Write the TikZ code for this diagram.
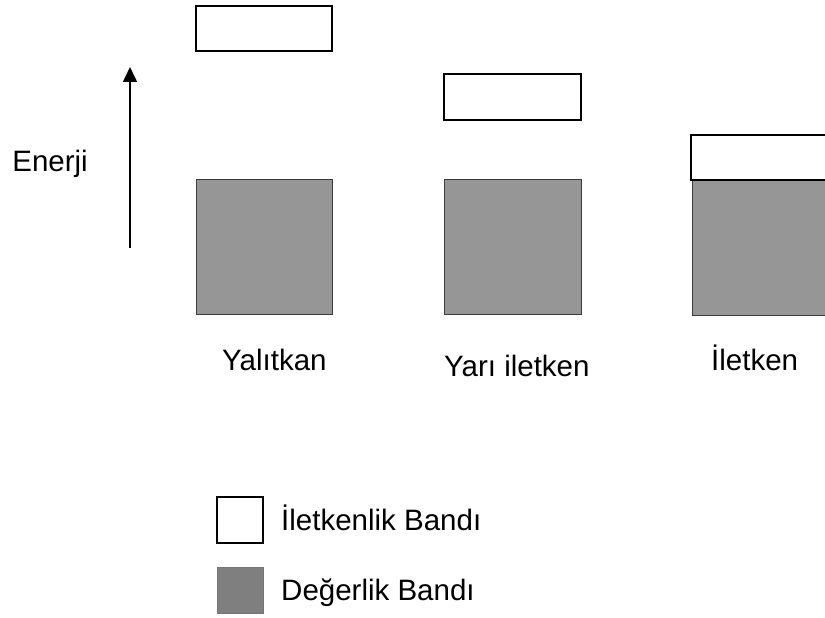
\documentclass[tikz,border=0pt]{standalone}
\usepackage{fontspec}
\setmainfont{Liberation Sans}
\usetikzlibrary{arrows.meta}
\definecolor{bandgray}{HTML}{969696}
\definecolor{bandedge}{HTML}{3C3C3C}
\definecolor{leggray}{HTML}{7F7F7F}
\tikzset{
  cband/.style={draw=black, line width=1.6pt, fill=white, inner sep=0pt, outer sep=0pt, anchor=north west},
  vband/.style={draw=bandedge, line width=1pt, fill=bandgray, inner sep=0pt, outer sep=0pt, anchor=north west},
  lbl/.style={inner sep=0pt, anchor=base west, font=\fontsize{29.5}{35}\selectfont},
  legbox/.style={inner sep=0pt, outer sep=0pt, anchor=north west, minimum width=46pt, minimum height=46pt}
}
\begin{document}
\begin{tikzpicture}[x=1pt,y=-1pt]
\useasboundingbox (0,0) rectangle (825,618);
\clip (0,0) rectangle (825,618);
% Yalitkan
\node[cband, minimum width=136pt, minimum height=45pt] (ycb) at (196,6) {};
\node[vband, minimum width=136pt, minimum height=135pt] (yvb) at (196,179) {};
% Yari iletken
\node[cband, minimum width=137pt, minimum height=46pt] (scb) at (444,74) {};
\node[vband, minimum width=137pt, minimum height=135pt] (svb) at (444,179) {};
% Iletken
\node[vband, minimum width=150pt, minimum height=135pt] (mvb) at (692,180) {};
\node[cband, minimum width=150pt, minimum height=45pt] (mcb) at (691,135) {};
% Energy arrow
\coordinate (abot) at (130,248);
\coordinate (atop) at (130,67);
\draw[line width=1.6pt, -{Triangle[length=15pt,width=14pt]}] (abot) -- (atop);
\node[lbl, anchor=base east] (enerji) at (88,171) {Enerji};
% labels
\node[lbl] (lyal) at (222,370) {Yalıtkan};
\node[lbl] (lyar) at (444,376) {Yarı iletken};
\node[lbl] (llet) at (711,370) {İletken};
% legend
\node[legbox, draw=black, line width=1.2pt, fill=white] (leg1) at (217,497) {};
\node[legbox, draw=bandedge!70, line width=1pt, fill=leggray] (leg2) at (217,567) {};
\node[lbl] (legt1) at (281,530) {İletkenlik Bandı};
\node[lbl] (legt2) at (281,600) {Değerlik Bandı};
\end{tikzpicture}
\end{document}
